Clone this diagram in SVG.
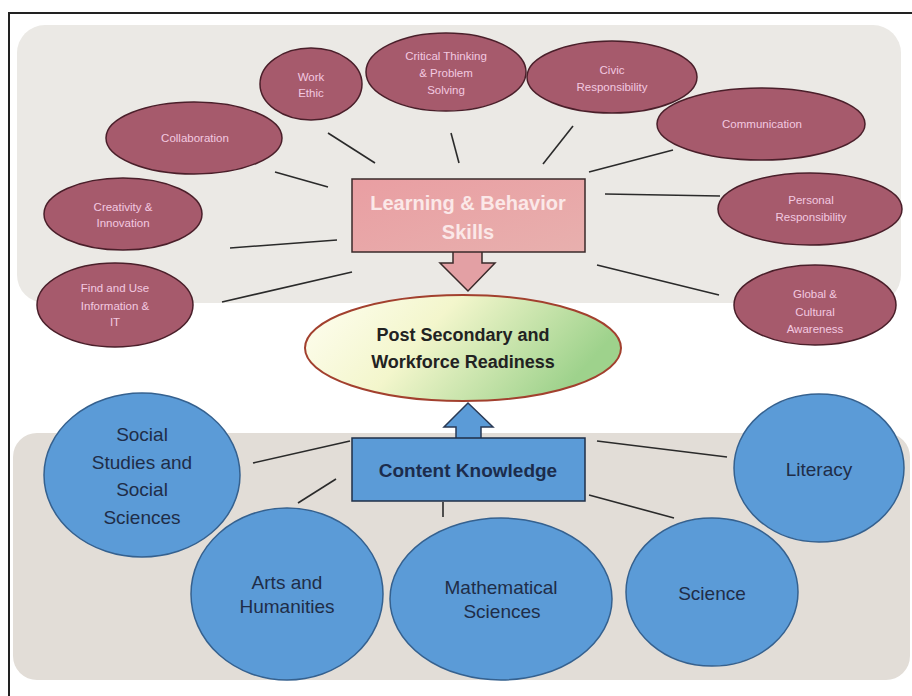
<svg xmlns="http://www.w3.org/2000/svg" width="912" height="696" viewBox="0 0 912 696">
<defs>
<style>
.skill ellipse{fill:#a65a6c;stroke:#4a1f2a;stroke-width:1.5}
.skill text{font-family:"Liberation Sans",Arial,sans-serif;font-size:11.5px;fill:#f3c9e0;text-anchor:middle}
.know ellipse{fill:#5b9bd7;stroke:#35618f;stroke-width:1.5}
.know text{font-family:"Liberation Sans",Arial,sans-serif;font-size:19px;fill:#1f2d48;text-anchor:middle}
.conn line{stroke:#2a2a2a;stroke-width:1.6}
.hdr{font-family:"Liberation Sans",Arial,sans-serif;font-weight:bold;text-anchor:middle}
</style>
<linearGradient id="gCenter" x1="0" y1="0" x2="1" y2="0.3">
<stop offset="0" stop-color="#fffef2"/>
<stop offset="0.45" stop-color="#f3f6cc"/>
<stop offset="1" stop-color="#9ed28c"/>
</linearGradient>
<linearGradient id="gPink" x1="0" y1="0" x2="1" y2="1">
<stop offset="0" stop-color="#e99ea2"/>
<stop offset="1" stop-color="#e8b0ae"/>
</linearGradient>
</defs>
<rect width="912" height="696" fill="#ffffff"/>
<!-- frame -->
<line x1="9" y1="12" x2="9" y2="696" stroke="#222" stroke-width="2"/>
<line x1="8" y1="13" x2="912" y2="13" stroke="#222" stroke-width="2"/>
<!-- background bands -->
<rect x="17" y="25" width="884" height="278" rx="28" fill="#ebe9e5"/>
<rect x="13" y="433" width="897" height="247" rx="24" fill="#e2ddd7"/>

<g class="conn" id="connectors">
<line x1="328" y1="133" x2="375" y2="163"/>
<line x1="275" y1="172" x2="328" y2="187"/>
<line x1="230" y1="248" x2="337" y2="240"/>
<line x1="222" y1="302" x2="352" y2="272"/>
<line x1="451" y1="133" x2="459" y2="163"/>
<line x1="573" y1="126" x2="543" y2="164"/>
<line x1="673" y1="150" x2="589" y2="172"/>
<line x1="605" y1="194" x2="720" y2="196"/>
<line x1="597" y1="265" x2="719" y2="295"/>
<line x1="253" y1="463" x2="350" y2="441"/>
<line x1="298" y1="503" x2="336" y2="479"/>
<line x1="443" y1="502" x2="443" y2="517"/>
<line x1="597" y1="441" x2="727" y2="457"/>
<line x1="589" y1="495" x2="674" y2="518"/>
<polygon points="453,248 482,248 482,263 495,263 468,291 440,263 453,263" fill="#e3a0a4" stroke="#3a2a2a" stroke-width="1.5"/>
<polygon points="468,403 493,427 481,427 481,442 456,442 456,427 444,427" fill="#5b9bd7" stroke="#2a3a55" stroke-width="1.5"/>
</g>

<g class="skill" id="work-ethic"><ellipse cx="311" cy="84" rx="51" ry="36"/><text x="311" y="81">Work</text><text x="311" y="97">Ethic</text></g>
<g class="skill" id="critical-thinking"><ellipse cx="446" cy="72" rx="80" ry="39"/><text x="446" y="60">Critical Thinking</text><text x="446" y="77">&amp; Problem</text><text x="446" y="94">Solving</text></g>
<g class="skill" id="civic"><ellipse cx="612" cy="77" rx="85" ry="36"/><text x="612" y="74">Civic</text><text x="612" y="91">Responsibility</text></g>
<g class="skill" id="communication"><ellipse cx="761" cy="124" rx="104" ry="36"/><text x="762" y="128">Communication</text></g>
<g class="skill" id="personal"><ellipse cx="810" cy="209" rx="92" ry="36"/><text x="811" y="204">Personal</text><text x="811" y="221">Responsibility</text></g>
<g class="skill" id="global"><ellipse cx="815" cy="305" rx="81" ry="40"/><text x="815" y="298">Global &amp;</text><text x="815" y="316">Cultural</text><text x="815" y="333">Awareness</text></g>
<g class="skill" id="collaboration"><ellipse cx="194" cy="138" rx="88" ry="36"/><text x="195" y="142">Collaboration</text></g>
<g class="skill" id="creativity"><ellipse cx="123" cy="214" rx="79" ry="36"/><text x="123" y="211">Creativity &amp;</text><text x="123" y="227">Innovation</text></g>
<g class="skill" id="find-use"><ellipse cx="115" cy="305" rx="78" ry="42"/><text x="115" y="292">Find and Use</text><text x="115" y="310">Information  &amp;</text><text x="115" y="326">IT</text></g>

<g id="learning-behavior">
<rect x="352" y="179" width="233" height="73" fill="url(#gPink)" stroke="#3a2a2a" stroke-width="1.5"/>
<text class="hdr" x="468" y="210" font-size="20" fill="#fbe8e8">Learning &amp; Behavior</text>
<text class="hdr" x="468" y="239" font-size="20" fill="#fbe8e8">Skills</text>
</g>

<g id="readiness">
<ellipse cx="463" cy="348" rx="158" ry="53" fill="url(#gCenter)" stroke="#a2402e" stroke-width="2"/>
<text class="hdr" x="463" y="341" font-size="18" fill="#222">Post Secondary and</text>
<text class="hdr" x="463" y="368" font-size="18" fill="#222">Workforce Readiness</text>
</g>

<g id="content-knowledge">
<rect x="352" y="438" width="233" height="63" fill="#5b9bd7" stroke="#1f2f48" stroke-width="1.5"/>
<text class="hdr" x="468" y="477" font-size="19" fill="#1c2c4c">Content Knowledge</text>
</g>

<g class="know" id="social-studies"><ellipse cx="142" cy="475" rx="98" ry="82"/><text x="142" y="441">Social</text><text x="142" y="469">Studies and</text><text x="142" y="496">Social</text><text x="142" y="524">Sciences</text></g>
<g class="know" id="arts"><ellipse cx="287" cy="594" rx="96" ry="86"/><text x="287" y="589" font-size="18">Arts and</text><text x="287" y="613" font-size="18">Humanities</text></g>
<g class="know" id="math"><ellipse cx="501" cy="599" rx="111" ry="81"/><text x="501" y="594" font-size="18">Mathematical</text><text x="502" y="618" font-size="18">Sciences</text></g>
<g class="know" id="science"><ellipse cx="712" cy="592" rx="86" ry="74"/><text x="712" y="600">Science</text></g>
<g class="know" id="literacy"><ellipse cx="819" cy="468" rx="85" ry="74"/><text x="819" y="476">Literacy</text></g>
</svg>
